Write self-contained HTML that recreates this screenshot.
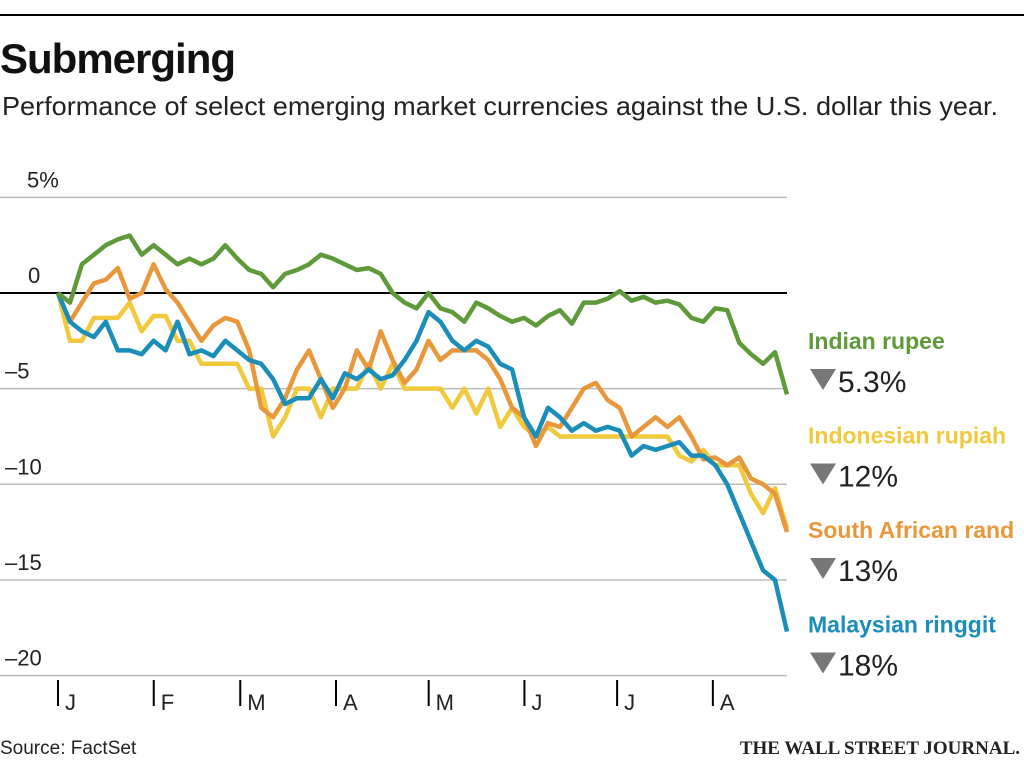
<!DOCTYPE html>
<html><head><meta charset="utf-8"><style>
body{margin:0;background:#fff;width:1024px;height:767px;overflow:hidden;font-family:"Liberation Sans",sans-serif}
</style></head><body>
<svg width="1024" height="767" style="position:absolute;left:0;top:0">
<line x1="0" y1="15" x2="1024" y2="15" stroke="#000" stroke-width="2"/>
<text x="0" y="73" font-size="42" font-weight="bold" fill="#111" letter-spacing="-1">Submerging</text>
<text x="2" y="115" font-size="26" fill="#222" textLength="996" lengthAdjust="spacingAndGlyphs">Performance of select emerging market currencies against the U.S. dollar this year.</text>
<g id="grid"></g><g id="series"></g><g id="xaxis"></g>
<text x="0" y="754" font-size="19" fill="#222">Source: FactSet</text>
<text x="1020" y="754" font-size="19" font-family="Liberation Serif" font-weight="bold" text-anchor="end" fill="#222">THE WALL STREET JOURNAL.</text>
<g id="legend"></g>
</svg>
<script>
const yTicks=[5,0,-5,-10,-15,-20];
const yTickLabels=["5%","0","\u20135","\u201310","\u201315","\u201320"];
const months=["J","F","M","A","M","J","J","A"];
const monthStartDays=[0,31,59,90,120,151,181,212];
const lastDay=236;
const seriesNames=["Indian rupee","Indonesian rupiah","South African rand","Malaysian ringgit"];
const seriesChanges=["5.3%","12%","13%","18%"];
const rupee=[0,-0.5,1.5,2,2.5,2.8,3,2,2.5,2,1.5,1.8,1.5,1.8,2.5,1.8,1.2,1,0.3,1,1.2,1.5,2,1.8,1.5,1.2,1.3,1,0,-0.5,-0.8,0,-0.8,-1,-1.5,-0.5,-0.8,-1.2,-1.5,-1.3,-1.7,-1.2,-0.9,-1.6,-0.5,-0.5,-0.3,0.1,-0.4,-0.2,-0.5,-0.4,-0.6,-1.3,-1.5,-0.8,-0.9,-2.6,-3.2,-3.7,-3.1,-5.3];
const rupiah=[0,-2.5,-2.5,-1.3,-1.3,-1.3,-0.5,-2,-1.2,-1.2,-2.5,-2.5,-3.7,-3.7,-3.7,-3.7,-5,-5,-7.5,-6.5,-5,-5,-6.5,-5,-5,-5,-3.7,-5,-3.7,-5,-5,-5,-5,-6,-5,-6.3,-5,-7,-6,-7,-7.5,-7,-7.5,-7.5,-7.5,-7.5,-7.5,-7.5,-7.5,-7.5,-7.5,-7.5,-8.5,-8.8,-8.2,-9,-9,-9,-10.5,-11.5,-10.2,-12.3];
const rand=[0,-1.5,-0.5,0.5,0.7,1.3,-0.3,0,1.5,0.2,-0.5,-1.5,-2.5,-1.7,-1.3,-1.5,-3,-6,-6.5,-5.5,-4,-3,-4.5,-6,-5,-3,-4,-2,-3.5,-4.7,-4,-2.5,-3.5,-3,-3,-3,-3.5,-4.5,-6,-6.5,-8,-6.8,-7,-6,-5,-4.7,-5.6,-6,-7.5,-7,-6.5,-7,-6.5,-7.5,-8.7,-8.6,-9,-8.6,-9.7,-10,-10.5,-12.5];
const ringgit=[0,-1.5,-2,-2.3,-1.5,-3,-3,-3.2,-2.5,-3,-1.5,-3.2,-3,-3.3,-2.5,-3,-3.5,-3.7,-4.5,-5.8,-5.5,-5.5,-4.5,-5.5,-4.2,-4.5,-4,-4.5,-4.3,-3.5,-2.5,-1,-1.5,-2.5,-3,-2.5,-2.8,-3.7,-4,-6.5,-7.5,-6,-6.5,-7.2,-6.8,-7.2,-7,-7.2,-8.5,-8,-8.2,-8,-7.8,-8.5,-8.5,-9,-10,-11.5,-13,-14.5,-15,-17.7];
const colors=["#5f9a3a","#f0c93c","#e8973a","#1a8db8"];
const X0=58,X1=787;
const yS=v=>293-v*19.13;
const xDay=d=>X0+d*(X1-X0)/lastDay;
const NS="http://www.w3.org/2000/svg";
function mk(t,a,p){const e=document.createElementNS(NS,t);for(const k in a)e.setAttribute(k,a[k]);p.appendChild(e);return e;}
const grid=document.getElementById('grid');
yTicks.forEach((v,i)=>{
  const l=mk('line',{x1:0,x2:787,y1:yS(v),y2:yS(v),stroke:v===0?'#000':'#bbb','stroke-width':v===0?2:1.5},grid);
  
  
  const t=mk('text',{x:v===0?28:(v===5?27:5),y:yS(v)-10,'font-size':22,fill:'#222'},grid);
  t.textContent=yTickLabels[i];
  
  
});
const xa=document.getElementById('xaxis');
months.forEach((m,i)=>{
  const x=xDay(monthStartDays[i]);
  const l=mk('line',{x1:x,x2:x,y1:680,y2:706,stroke:'#000','stroke-width':2},xa);
  
  
  const t=mk('text',{x:x+7,y:710,'font-size':22,fill:'#222'},xa);
  t.textContent=m;
  
  
});
const sg=document.getElementById('series');
const data=[rupiah,rand,ringgit,rupee];
const order=[1,2,3,0];
data.forEach((arr,k)=>{
  const ci=order[k];
  const pts=arr.map((v,i)=>(X0+i*(X1-X0)/(arr.length-1)).toFixed(1)+','+yS(v).toFixed(1)).join(' ');
  const p=mk('polyline',{points:pts,fill:'none',stroke:colors[ci],'stroke-width':4.5,'stroke-linejoin':'round'},sg);
  
  
});
const lg=document.getElementById('legend');
seriesNames.forEach((n,i)=>{
  const y=349+i*94.5;
  const t=mk('text',{x:808,y:y,'font-size':23,'font-weight':'bold',fill:colors[i]},lg);
  t.textContent=n;
  
  
  const tri=mk('polygon',{points:`810,${y+20} 836,${y+20} 823,${y+41}`,fill:'#777'},lg);
  
  
  const c=mk('text',{x:838,y:y+43,'font-size':30,fill:'#222'},lg);
  c.textContent=seriesChanges[i];
  
  
});
</script>
</body></html>
